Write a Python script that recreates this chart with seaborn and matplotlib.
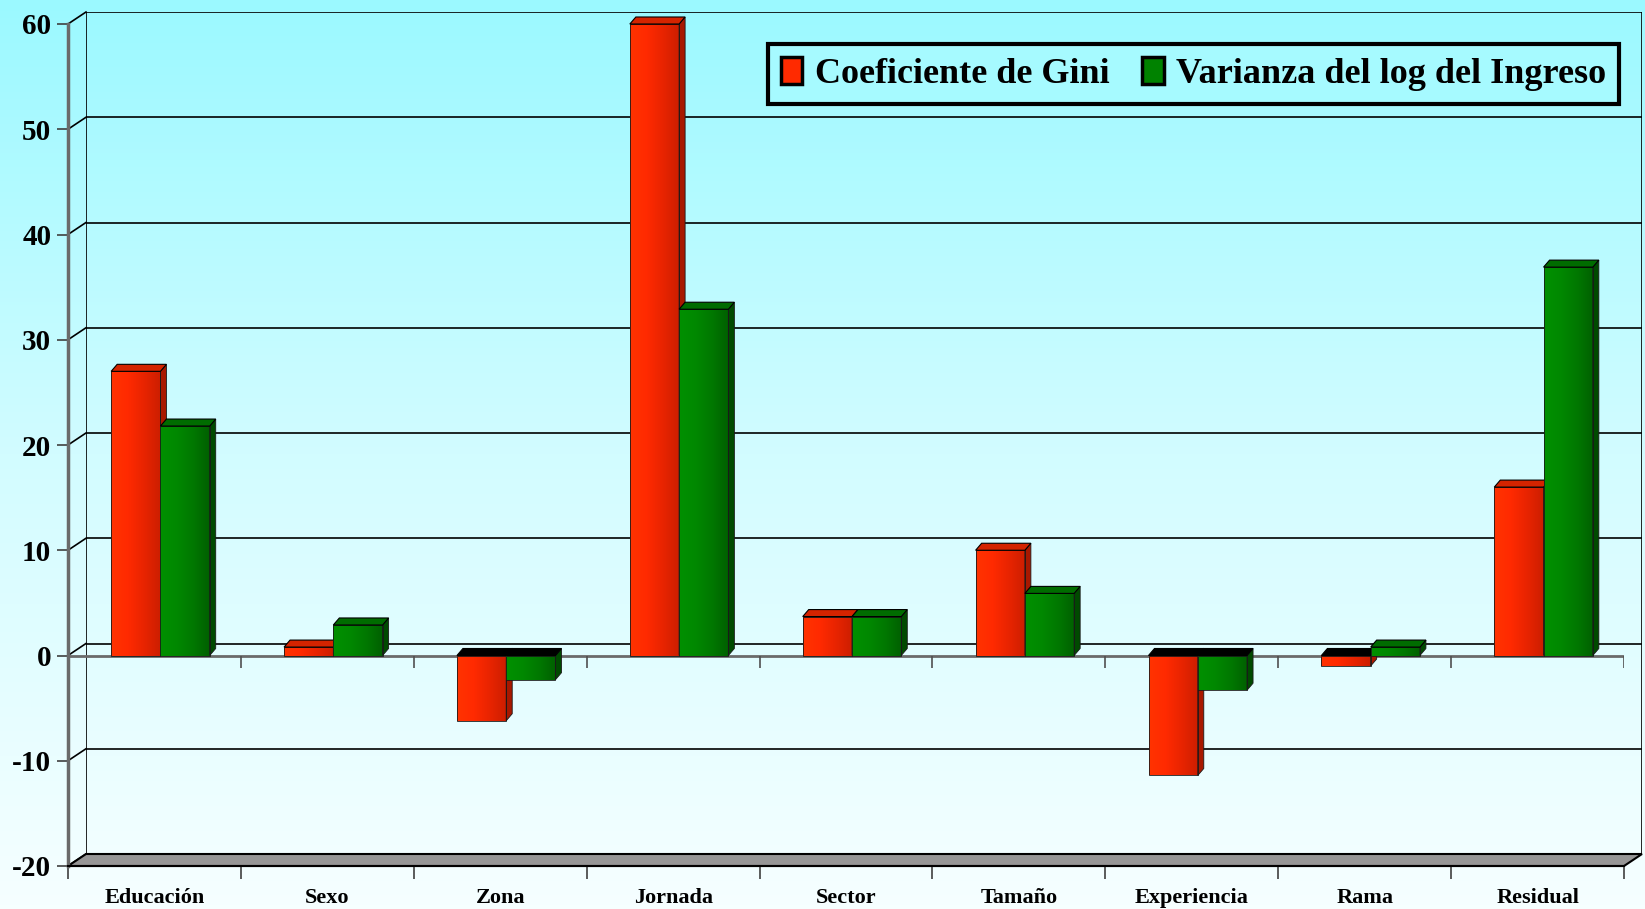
# 3D-style bar chart: Gini vs log-income variance decomposition
import numpy as np
import pandas as pd
import matplotlib.pyplot as plt
import seaborn as sns
from matplotlib.patches import Polygon, Rectangle
from matplotlib.lines import Line2D
from matplotlib.colors import LinearSegmentedColormap
from matplotlib.transforms import IdentityTransform

categorias = ["Educación", "Sexo", "Zona", "Jornada", "Sector",
              "Tamaño", "Experiencia", "Rama", "Residual"]
gini = [27, 0.8, -6.2, 60, 3.7, 10, -11.4, -1, 16]
varianza = [21.8, 2.9, -2.3, 32.9, 3.7, 5.9, -3.3, 0.8, 36.9]
series = ["Coeficiente de Gini", "Varianza del log del Ingreso"]
colores = ["#FF2A00", "#008200"]
y_ticks = [-20, -10, 0, 10, 20, 30, 40, 50, 60]

df = pd.DataFrame({
    "categoria": categorias * 2,
    "valor": gini + varianza,
    "serie": [series[0]] * len(categorias) + [series[1]] * len(categorias),
})

plt.rcParams['font.family'] = ['Liberation Serif', 'DejaVu Serif']

W, H, DPI = 1645, 909, 100
fig = plt.figure(figsize=(W / DPI, H / DPI), dpi=DPI)

# background gradient (cyan -> white)
bg = fig.add_axes([0, 0, 1, 1], zorder=-3)
bg_cmap = LinearSegmentedColormap.from_list("fondo", ["#9BF9FF", "#D2FCFF", "#F6FFFF"])
bg.imshow(np.linspace(0, 1, 256)[:, None], aspect="auto", cmap=bg_cmap, extent=[0, 1, 0, 1])
bg.set_axis_off()

# front plane and back wall (pixel box + depth offset)
FX0, FX1, FY0, FY1 = 68, 1624, 24, 866
DX, DY = 18, 12
ax = fig.add_axes([FX0 / W, 1 - FY1 / H, (FX1 - FX0) / W, (FY1 - FY0) / H], zorder=1)
back = fig.add_axes([(FX0 + DX) / W, 1 - (FY1 - DY) / H, (FX1 - FX0) / W, (FY1 - FY0) / H], zorder=-1)

xlim = (-0.5, len(categorias) - 0.5)
ylim = (-20, 60)

for a in (ax, back):
    a.set_xlim(*xlim)
    a.set_ylim(*ylim)

# back wall grid
back.set_axis_off()
for v in y_ticks:
    back.axhline(v, color="black", lw=1.2)
back.axvline(xlim[0], color="black", lw=1.2)
back.axvline(xlim[1], color="black", lw=1.2)

# bars
sns.barplot(data=df, x="categoria", y="valor", hue="serie", palette=colores,
            width=0.57, saturation=1, ax=ax, legend=False,
            edgecolor="#1A1A1A", linewidth=0.6)
ax.set_xlim(*xlim)
ax.set_ylim(*ylim)

ux = (xlim[1] - xlim[0]) / (FX1 - FX0)
uy = (ylim[1] - ylim[0]) / (FY1 - FY0)
bdx, bdy = 6 * ux, 7 * uy
shift = 6 * ux  # pair sits a little right of the category centre

face_maps = [
    LinearSegmentedColormap.from_list("r", ["#FF3300", "#FF2A00", "#E82400", "#CC1E00"]),
    LinearSegmentedColormap.from_list("g", ["#009000", "#008800", "#007800", "#006000"]),
]
side_cols = ["#A81800", "#004A00"]
cap_cols = ["#D42400", "#006C00"]

for i, cont in enumerate(ax.containers):
    z = 2 + 2 * i
    for rect in cont:
        rect.set_x(rect.get_x() + shift)
        x0, w = rect.get_x(), rect.get_width()
        y, h = rect.get_y(), rect.get_height()
        bot, top = min(y, y + h), max(y, y + h)
        x1 = x0 + w
        ax.imshow(np.linspace(0, 1, 64)[None, :], cmap=face_maps[i], aspect="auto",
                  extent=[x0, x1, bot, top], zorder=z)
        rect.set_facecolor("none")
        rect.set_zorder(z + 0.5)
        ax.add_patch(Polygon([(x1, bot), (x1, top), (x1 + bdx, top + bdy), (x1 + bdx, bot + bdy)],
                             facecolor=side_cols[i], edgecolor="#1A1A1A", lw=0.6,
                             zorder=z, clip_on=False))
        cap = cap_cols[i] if h >= 0 else "black"
        ax.add_patch(Polygon([(x0, top), (x1, top), (x1 + bdx, top + bdy), (x0 + bdx, top + bdy)],
                             facecolor=cap, edgecolor="black", lw=0.8,
                             zorder=z + 0.5, clip_on=False))
ax.set_xlim(*xlim)
ax.set_ylim(*ylim)

# front zero line and its tick marks
ax.axhline(0, color="#6A6A6A", lw=2, zorder=1.5)
bounds = np.arange(xlim[0], xlim[1] + 0.01, 1)
ax.vlines(bounds, -1.2, 0, color="#505050", lw=1.2, zorder=1.5)

# axes styling
ax.set_facecolor("none")
ax.set_xlabel("")
ax.set_ylabel("")
for s in ("top", "right"):
    ax.spines[s].set_visible(False)
ax.spines["left"].set_color("#6A6A6A")
ax.spines["left"].set_linewidth(2.5)
ax.spines["bottom"].set_color("black")
ax.spines["bottom"].set_linewidth(1.5)

ax.set_yticks(y_ticks)
ax.set_yticklabels([str(v) for v in y_ticks], fontsize=21, fontweight="bold")
ax.tick_params(axis="y", length=8, width=1.2, color="#404040", pad=4)
ax.set_xticks(range(len(categorias)))
ax.set_xticklabels(categorias, fontsize=16, fontweight="bold")
ax.set_xticks(bounds, minor=True)
ax.tick_params(axis="x", which="major", length=0, pad=16)
ax.tick_params(axis="x", which="minor", length=9, width=1.2, color="#404040")

# left wall diagonals
for v in y_ticks:
    pf = ax.transData.transform((xlim[0], v))
    pb = back.transData.transform((xlim[0], v))
    fig.add_artist(Line2D([pf[0], pb[0]], [pf[1], pb[1]], transform=IdentityTransform(),
                          color="black", lw=1.2, zorder=0.5))

# floor
floor = [ax.transData.transform((xlim[0], ylim[0])), ax.transData.transform((xlim[1], ylim[0])),
         back.transData.transform((xlim[1], ylim[0])), back.transData.transform((xlim[0], ylim[0]))]
fig.add_artist(Polygon(floor, transform=IdentityTransform(), facecolor="#969696",
                       edgecolor="black", lw=1.5, zorder=0.5))

# legend
handles = [Rectangle((0, 0), 1, 1, facecolor=c, edgecolor="black", lw=2.5) for c in colores]
leg = fig.legend(handles, series, ncol=2, loc="upper right",
                 bbox_to_anchor=(1619 / W, 1 - 44 / H), borderaxespad=0,
                 frameon=True, fancybox=False,
                 prop=dict(weight="bold", size=26),
                 handlelength=0.6, handleheight=0.8, handletextpad=0.35,
                 columnspacing=0.9, borderpad=0.35,
                 edgecolor="black", facecolor="#A6FAFF", framealpha=1)
leg.get_frame().set_linewidth(3)

fig.savefig("out.png", dpi=DPI)
